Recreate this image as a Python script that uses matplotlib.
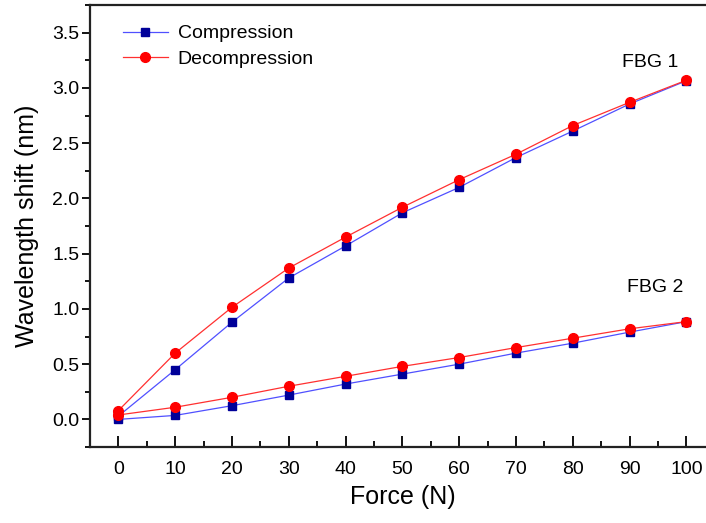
import matplotlib
matplotlib.use("Agg")
import matplotlib.pyplot as plt
from matplotlib.ticker import MultipleLocator

plt.rcParams['font.family'] = ['Liberation Sans', 'DejaVu Sans']

# force steps (N)
force = [0, 10, 20, 30, 40, 50, 60, 70, 80, 90, 100]

# FBG 1 wavelength shift (nm)
fbg1_comp = [0.03, 0.45, 0.88, 1.28, 1.57, 1.87, 2.10, 2.37, 2.61, 2.855, 3.065]
fbg1_decomp = [0.08, 0.60, 1.015, 1.37, 1.65, 1.92, 2.17, 2.40, 2.66, 2.87, 3.07]

# FBG 2 wavelength shift (nm)
fbg2_comp = [0.0, 0.036, 0.124, 0.22, 0.32, 0.41, 0.50, 0.60, 0.69, 0.79, 0.885]
fbg2_decomp = [0.04, 0.11, 0.20, 0.30, 0.39, 0.48, 0.56, 0.65, 0.735, 0.82, 0.885]

comp_line = "#5050ff"
comp_mark = "#000099"
decomp_line = "#ff3030"
decomp_mark = "#ff0000"

fig = plt.figure(figsize=(7.06, 5.23), dpi=100)
ax = fig.add_axes([0.1275, 0.1453, 0.885, 0.845])

ax.plot(force, fbg1_comp, color=comp_line, lw=0.9, marker="s", ms=6,
        mfc=comp_mark, mec=comp_mark, label="Compression")
ax.plot(force, fbg2_comp, color=comp_line, lw=0.9, marker="s", ms=6,
        mfc=comp_mark, mec=comp_mark)
ax.plot(force, fbg1_decomp, color=decomp_line, lw=0.9, marker="o", ms=7,
        mfc=decomp_mark, mec=decomp_mark, label="Decompression")
ax.plot(force, fbg2_decomp, color=decomp_line, lw=0.9, marker="o", ms=7,
        mfc=decomp_mark, mec=decomp_mark)

ax.text(93.7, 3.23, "FBG 1", fontsize=14, ha="center", va="center")
ax.text(94.5, 1.19, "FBG 2", fontsize=14, ha="center", va="center")

ax.set_xlim(-5, 105)
ax.set_ylim(-0.25, 3.75)
ax.set_xticks(force)
ax.xaxis.set_minor_locator(MultipleLocator(5))
ax.yaxis.set_major_locator(MultipleLocator(0.5))
ax.yaxis.set_minor_locator(MultipleLocator(0.25))
ax.yaxis.set_major_formatter(matplotlib.ticker.FormatStrFormatter("%.1f"))

ax.tick_params(axis="x", which="major", direction="in", length=8, width=1.3,
               labelsize=14, pad=10)
ax.tick_params(axis="x", which="minor", direction="in", length=4, width=1.3)
ax.tick_params(axis="y", which="major", direction="out", length=6, width=1.3,
               labelsize=14, pad=1.5)
ax.tick_params(axis="y", which="minor", direction="out", length=3.5, width=1.3)

for s in ax.spines.values():
    s.set_linewidth(1.6)
    s.set_color("#222222")

ax.set_xlabel("Force (N)", fontsize=18, labelpad=5)
ax.set_ylabel("Wavelength shift (nm)", fontsize=18, labelpad=10)

ax.legend(loc="upper left", bbox_to_anchor=(0.025, 0.995), frameon=False,
          fontsize=14, handlelength=2.3, handletextpad=0.5, labelspacing=0.42)

fig.savefig("out.png", dpi=100)
